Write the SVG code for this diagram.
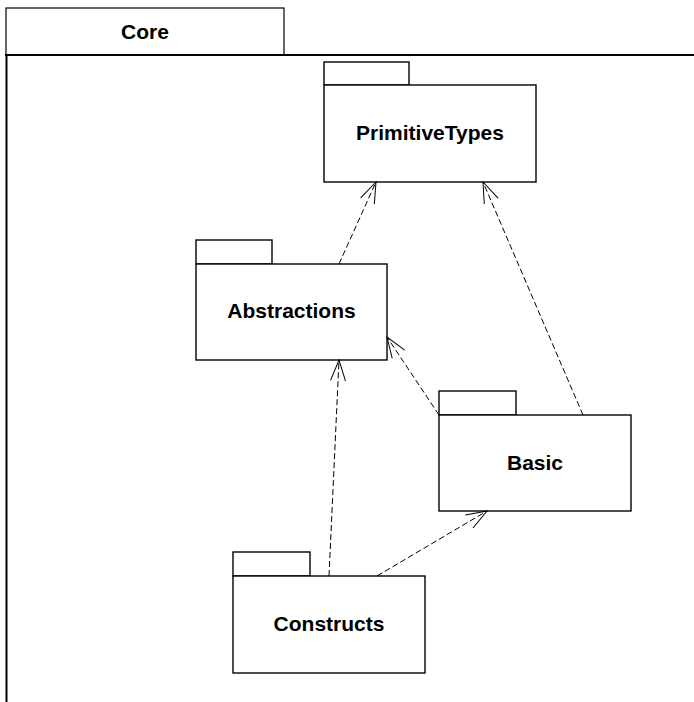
<svg xmlns="http://www.w3.org/2000/svg" width="694" height="702" viewBox="0 0 694 702">
<style>
.box{fill:#fff;stroke:#000;stroke-width:1.4}
.lbl{font-family:"Liberation Sans",Arial,sans-serif;font-weight:bold;font-size:21px;text-anchor:middle;fill:#000}
.dep{fill:none;stroke:#000;stroke-width:1;stroke-dasharray:6,3}
</style>
<defs>
<marker id="open" markerUnits="userSpaceOnUse" markerWidth="30" markerHeight="20" viewBox="-24 -10 30 20" refX="0" refY="0" orient="auto">
<path d="M-20.7,-7.5 L0,0 L-20.7,7.5" fill="none" stroke="#000" stroke-width="1"/>
</marker>
</defs>
<rect width="694" height="702" fill="#fff"/>
<g id="core">
<rect x="6" y="8" width="278" height="47" fill="#fff" stroke="#000" stroke-width="1.2"/>
<line x1="5" y1="55" x2="694" y2="55" stroke="#000" stroke-width="2"/>
<line x1="6.5" y1="55" x2="6.5" y2="702" stroke="#000" stroke-width="2"/>
<text class="lbl" x="145" y="39">Core</text>
</g>
<g id="primitivetypes">
<rect class="box" x="324" y="62" width="85" height="23"/>
<rect class="box" x="324" y="85" width="212" height="97"/>
<text class="lbl" x="430" y="140">PrimitiveTypes</text>
</g>
<g id="abstractions">
<rect class="box" x="196" y="240" width="76" height="24"/>
<rect class="box" x="196" y="264" width="191" height="96"/>
<text class="lbl" x="291.5" y="318">Abstractions</text>
</g>
<g id="basic">
<rect class="box" x="439" y="391" width="77" height="24"/>
<rect class="box" x="439" y="415" width="192" height="96"/>
<text class="lbl" x="535" y="470">Basic</text>
</g>
<g id="constructs">
<rect class="box" x="233" y="552" width="77" height="24"/>
<rect class="box" x="233" y="576" width="192" height="97"/>
<text class="lbl" x="329" y="631">Constructs</text>
</g>
<g id="connectors">
<line class="dep" x1="339" y1="264" x2="376" y2="182" marker-end="url(#open)"/>
<line class="dep" x1="583" y1="415" x2="483" y2="182" marker-end="url(#open)"/>
<line class="dep" x1="439" y1="415" x2="387" y2="337" marker-end="url(#open)"/>
<line class="dep" x1="329" y1="576" x2="339" y2="360" marker-end="url(#open)"/>
<line class="dep" x1="377" y1="576" x2="487" y2="511" marker-end="url(#open)"/>
</g>
</svg>
